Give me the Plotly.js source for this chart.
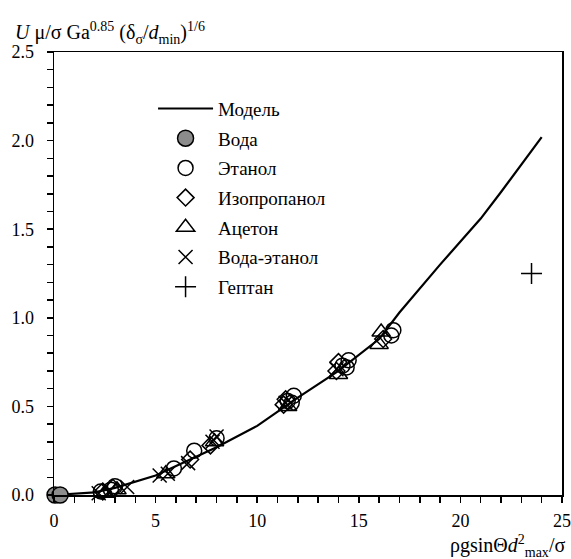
<!DOCTYPE html>
<html>
<head>
<meta charset="utf-8">
<script src="https://cdn.plot.ly/plotly-3.0.1.min.js"></script>
<style>html,body{margin:0;padding:0;background:#fff;}</style>
</head>
<body>
<div id="chart" style="width:571px;height:559px;"></div>
<script>
// Model curve
const modelX = [0, 2, 3, 5, 8, 10, 12, 14, 16, 17, 19, 21, 22, 24];
const modelY = [0, 0.015, 0.04, 0.11, 0.27, 0.39, 0.55, 0.70, 0.88, 1.03, 1.30, 1.56, 1.71, 2.02];
// Water
const waterX = [0.05, 0.3];
const waterY = [0, 0];
// Ethanol
const ethanolX = [2.3, 2.8, 3.0, 5.9, 6.9, 8.0, 11.5, 11.8, 11.7, 14.2, 14.5, 14.4, 16.6, 16.7];
const ethanolY = [0.02, 0.03, 0.05, 0.15, 0.25, 0.32, 0.53, 0.56, 0.52, 0.73, 0.76, 0.72, 0.90, 0.93];
// Isopropanol
const isoX = [2.4, 2.9, 6.7, 7.7, 11.3, 11.4, 13.9, 14.0, 16.2];
const isoY = [0.02, 0.04, 0.20, 0.28, 0.51, 0.54, 0.70, 0.75, 0.88];
// Acetone
const acetoneX = [2.5, 3.1, 5.5, 7.9, 11.5, 14.0, 16.0, 16.1];
const acetoneY = [0.01, 0.03, 0.12, 0.30, 0.50, 0.68, 0.85, 0.92];
// Water-ethanol
const weX = [2.2, 2.7, 3.6, 5.2, 5.6, 6.6, 7.8, 8.0, 11.4, 13.9];
const weY = [0.01, 0.02, 0.045, 0.11, 0.12, 0.18, 0.30, 0.33, 0.52, 0.71];
// Heptane
const heptaneX = [23.5];
const heptaneY = [1.25];

const names = ["Модель", "Вода", "Этанол", "Изопропанол", "Ацетон", "Вода-этанол", "Гептан"];
const xTicks = [0, 5, 10, 15, 20, 25];
const yTicks = [0, 0.5, 1.0, 1.5, 2.0, 2.5];

const mk = (symbol, size, fill) => ({symbol: symbol, size: size, color: fill, line: {color: "#000", width: 1.5}});

const traces = [
  {x: modelX, y: modelY, name: names[0], legendgroup: "g0", mode: "lines", line: {color: "#000", width: 2.2}},
  {x: waterX, y: waterY, name: names[1], legendgroup: "g1", mode: "markers", cliponaxis: false, marker: mk("circle", 16, "#8c8c8c")},
  {x: ethanolX, y: ethanolY, name: names[2], legendgroup: "g2", mode: "markers", cliponaxis: false, marker: mk("circle-open", 15, "#000")},
  {x: isoX, y: isoY, name: names[3], legendgroup: "g3", mode: "markers", cliponaxis: false, marker: mk("diamond-open", 13, "#000")},
  {x: acetoneX, y: acetoneY, name: names[4], legendgroup: "g4", mode: "markers", cliponaxis: false, marker: mk("triangle-up-open", 16, "#000")},
  {x: weX, y: weY, name: names[5], legendgroup: "g5", mode: "markers", cliponaxis: false, marker: mk("x-thin-open", 14, "#000")},
  {x: heptaneX, y: heptaneY, name: names[6], legendgroup: "g6", mode: "markers", cliponaxis: false, marker: mk("cross-thin-open", 15, "#000")}
];

const fam = "Liberation Serif";
const tickFont = {family: fam, size: 18, color: "#000"};
const titleFont = {family: fam, size: 20, color: "#000"};

const layout = {
  width: 571, height: 559,
  margin: {l: 54, r: 9, t: 52, b: 64},
  paper_bgcolor: "#fff", plot_bgcolor: "#fff",
  font: tickFont,
  showlegend: true,
  legend: {x: 0.195, y: 0.915, xanchor: "left", yanchor: "top", bgcolor: "rgba(0,0,0,0)",
           font: {family: fam, size: 19, color: "#000"}, tracegroupgap: 2, itemwidth: 55},
  xaxis: {range: [0, 25], tickvals: xTicks, ticktext: xTicks.map(String), ticks: "outside", ticklen: 6, tickwidth: 1.5,
          tickcolor: "#000", showline: true, linecolor: "#000", linewidth: 1.5, mirror: true, ticklabelstandoff: 3,
          showgrid: false, zeroline: false, minor: {dtick: 1, ticks: "outside", ticklen: 6, tickwidth: 1.5, tickcolor: "#000", showgrid: false},
          tickfont: tickFont},
  yaxis: {range: [0, 2.5], tickvals: yTicks, ticktext: yTicks.map(v => v.toFixed(1)), ticks: "outside", ticklen: 6, tickwidth: 1.5,
          tickcolor: "#000", showline: true, linecolor: "#000", linewidth: 1.5, mirror: true, ticklabelstandoff: 9,
          showgrid: false, zeroline: false, minor: {dtick: 0.1, ticks: "outside", ticklen: 6, tickwidth: 1.5, tickcolor: "#000", showgrid: false},
          tickfont: tickFont},
  annotations: [
    {xref: "paper", yref: "paper", x: 0, y: 1, xanchor: "left", yanchor: "bottom", xshift: -41, yshift: 3, showarrow: false,
     text: "<i>U</i> μ/σ Ga<sup>0.85</sup> (δ<sub>σ</sub>/<i>d</i><sub>min</sub>)<sup>1/6</sup>", font: titleFont},
    {xref: "paper", yref: "paper", x: 1, y: 0, xanchor: "right", yanchor: "top", yshift: -35, xshift: 5, showarrow: false,
     text: "ρgsinΘ<i>d</i><sup>2</sup><sub>max</sub>/σ", font: titleFont}
  ]
};

Plotly.newPlot("chart", traces, layout, {staticPlot: true, displayModeBar: false});
</script>
</body>
</html>
